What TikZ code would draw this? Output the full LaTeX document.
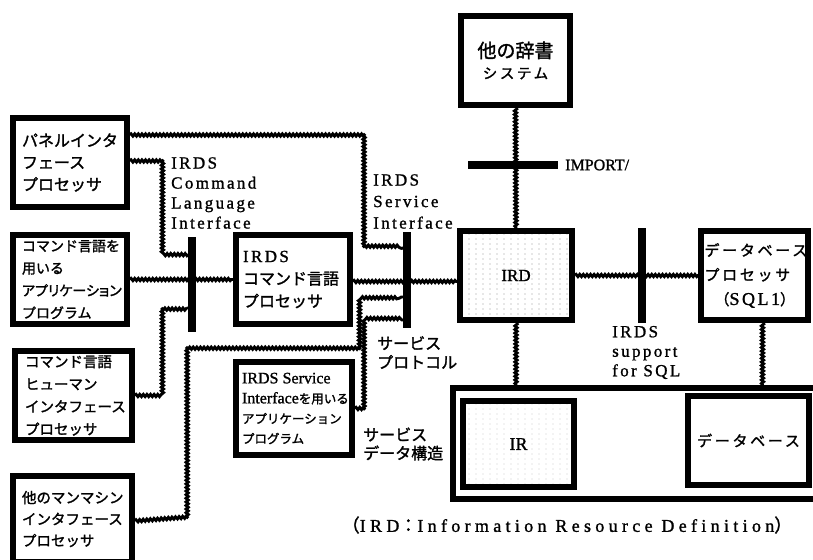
\documentclass[tikz,border=0pt]{standalone}
\usepackage{fontspec}
\setmainfont[FakeBold=1.2]{Liberation Serif}
\newfontfamily\jp[FakeBold=1.6]{Noto Sans CJK JP}
\newfontfamily\jpp[RawFeature=+palt,FakeBold=1.6]{Noto Sans CJK JP}
\newfontfamily\jpsp[LetterSpace=18,FakeBold=1.6]{Noto Sans CJK JP}
\newfontfamily\lsp[LetterSpace=14,FakeBold=1.2]{Liberation Serif}
\newfontfamily\lspw[LetterSpace=24,FakeBold=1.2]{Liberation Serif}
\usetikzlibrary{decorations.pathmorphing,patterns}
\pgfdeclarepatternformonly{sparsedots}{\pgfpoint{-1pt}{-1pt}}{\pgfpoint{1pt}{1pt}}{\pgfpoint{7pt}{5pt}}{\pgfpathcircle{\pgfpointorigin}{0.55pt}\pgfusepath{fill}}
\tikzset{
  box/.style={draw, line width=6pt, fill=white, inner sep=0pt, align=left},
  bar/.style={fill=black, draw=none, inner sep=0pt},
  wire/.style={line width=2.9pt, decorate, decoration={snake, amplitude=1.1pt, segment length=3.6pt}},
  lbl/.style={inner sep=0pt, align=left, anchor=west, font=\lsp\fontsize{17}{20}\selectfont},
  jlbl/.style={inner sep=0pt, align=left, anchor=west, font=\jp\fontsize{16}{19}\selectfont},
}
\begin{document}
\begin{tikzpicture}[x=1pt,y=-1pt]
\useasboundingbox (0,0) rectangle (813,559);
\coordinate (p1a) at (365,135);
\coordinate (p1b) at (365,248);
\coordinate (p2a) at (163,161);
\coordinate (p2b) at (163,255);
\coordinate (h1) at (160,395.5);
\coordinate (h2) at (160,308);
\coordinate (m1) at (188,517);
\coordinate (m2) at (188,347);
\coordinate (m3) at (363,347);
\coordinate (m4) at (363,297);
\coordinate (s1) at (365,408.5);
\coordinate (s2) at (365,320);
% boxes
\node[box,font=\jp\fontsize{16}{22}\selectfont,minimum width=114pt,minimum height=89pt,text width=96pt] (panel) at (70,162.5) {パネルインタ\\フェース\\プロセッサ};
\node[box,font=\jp\fontsize{14}{22.3}\selectfont,minimum width=114pt,minimum height=89pt,text width=96pt] (app) at (70,279.5) {コマンド言語を\\用いる\\{\jpp アプリケーション}\\プログラム};
\node[box,font=\jp\fontsize{14.5}{22.5}\selectfont,minimum width=117pt,minimum height=89pt,text width=97pt] (human) at (73.5,395.5) {コマンド言語\\ヒューマン\\インタフェース\\プロセッサ};
\node[box,font=\jp\fontsize{14.5}{21.5}\selectfont,minimum width=119pt,minimum height=86pt,text width=101pt] (mm) at (72.5,519) {他のマンマシン\\インタフェース\\プロセッサ\\[4pt]};
\node[box,font=\jp\fontsize{16}{22.5}\selectfont,minimum width=114pt,minimum height=89pt,text width=100pt] (cmd) at (293,279.5) {{\lsp\fontsize{17}{20}\selectfont IRDS}\\コマンド言語\\プロセッサ};
\node[box,font=\jp\fontsize{12.5}{20}\selectfont,minimum width=116pt,minimum height=93pt,text width=104pt] (svc) at (294,408.5) {{\rmfamily\fontsize{16}{20}\selectfont IRDS Service}\\{\rmfamily\fontsize{16}{20}\selectfont Interface}を用いる\\アプリケーション\\プログラム};
\node[box,preaction={fill=white},pattern=sparsedots,pattern color=black!40,minimum width=112pt,minimum height=89pt,font=\rmfamily\fontsize{17}{20}\selectfont] (ird) at (516,275.5) {IRD};
\node[box,align=center,minimum width=109pt,minimum height=89pt,font=\jp\fontsize{14}{21}\selectfont] (dict) at (515.5,60.5) {{\fontsize{19}{21}\selectfont 他の辞書}\\{\jpsp\fontsize{14.5}{21}\selectfont システム}};
\node[box,font=\jpsp\fontsize{15}{24.5}\selectfont,minimum width=107pt,minimum height=89pt,text width=100pt] (dbp) at (754.5,275.5) {データベース\\プロセッサ\\\hspace*{10pt}{\jp （}{\lsp\fontsize{18}{20}\selectfont SQL1}{\jp ）}};
\node[box,minimum width=374pt,minimum height=111pt] (big) at (640,443.5) {};
\node[box,preaction={fill=white},pattern=sparsedots,pattern color=black!20,minimum width=111pt,minimum height=86pt,font=\rmfamily\fontsize{18}{20}\selectfont] (ir) at (518.5,444) {IR};
\node[box,minimum width=121pt,minimum height=89pt,font=\jpsp\fontsize{15}{20}\selectfont] (db) at (748.5,440.5) {データベース};
% bars
\node[bar,minimum width=8pt,minimum height=95pt] (cli) at (192,284.5) {};
\node[bar,minimum width=8pt,minimum height=96pt] (si) at (407,280) {};
\node[bar,minimum width=90pt,minimum height=8pt] (imp) at (513,165) {};
\node[bar,minimum width=8pt,minimum height=95pt] (sqlb) at (642,275.5) {};
% wires
\draw[wire] ([yshift=-20pt]panel.north east) -- (p1a) -- (p1b) -- (si.west |- p1b);
\draw[wire] ([yshift=-46pt]panel.north east) -- (p2a) -- (p2b) -- (cli.west |- p2b);
\draw[wire] (app.east) -- (cmd.west);
\draw[wire] (human.east) -- (h1) -- (h2) -- (cli.west |- h2);
\draw[wire] ([yshift=-2pt]mm.east) -- (m1) -- (m2) -- (m3) -- (m4) -- (si.west |- m4);
\draw[wire] (svc.east) -- (s1) -- (s2) -- (si.west |- s2);
\draw[wire] ([yshift=-2pt]cmd.east) -- ([yshift=-2pt]cmd.east -| ird.west);
\draw[wire] (ird.east) -- (dbp.west);
\draw[wire] (dict.south) -- (ird.north);
\draw[wire] (ird.south) -- (ird.south |- big.north);
\draw[wire] ([xshift=8pt]dbp.south) -- ([xshift=8pt]dbp.south |- big.north);
% redraw bars over wires
\fill (cli.north west) rectangle (cli.south east);
\fill (si.north west) rectangle (si.south east);
\fill (imp.north west) rectangle (imp.south east);
\fill (sqlb.north west) rectangle (sqlb.south east);
% labels
\node[lbl] (lcli) at (171,193) {IRDS\\Command\\Language\\Interface};
\node[lbl,font=\lsp\fontsize{17}{21.5}\selectfont] (lsi) at (373,201.5) {IRDS\\Service\\Interface};
\node[lbl,font=\rmfamily\fontsize{16}{20}\selectfont] (limp) at (565,165) {IMPORT/};
\node[jlbl] (lprot) at (377,352.5) {サービス\\プロトコル};
\node[jlbl,font=\jp\fontsize{16}{18.5}\selectfont] (ldata) at (363,444) {サービス\\データ構造};
\node[lbl,font=\lsp\fontsize{17}{19.5}\selectfont] (lsql) at (612,352.5) {IRDS\\support\\for SQL};
\node[inner sep=0pt,font=\lspw\fontsize{18}{20}\selectfont] (cap) at (567,525) {{\jp （}IRD{\jp ：}Information Resource Definition{\jp ）}};
\end{tikzpicture}
\end{document}
